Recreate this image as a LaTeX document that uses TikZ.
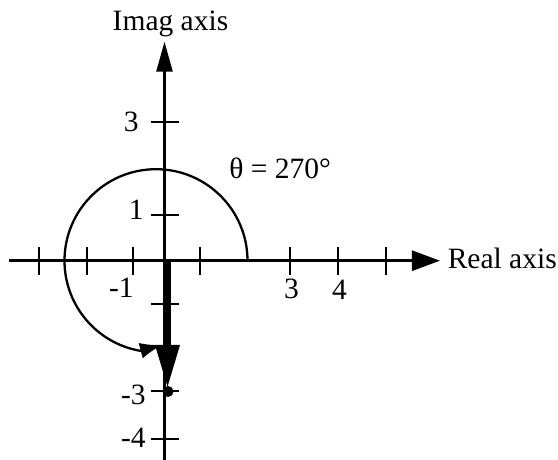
\documentclass[tikz,border=0pt]{standalone}
\usepackage{fontspec}
\setmainfont{Liberation Serif}
\usetikzlibrary{arrows.meta}

\begin{document}
\begin{tikzpicture}[x=1pt,y=1pt,line width=2.6pt,font=\fontsize{29.5}{31}\selectfont,
  etiq/.style={inner sep=0pt}]
\useasboundingbox (-164.5,-199.3) rectangle (393.5,260.7);
% axes réel et imaginaire
\coordinate (xg) at (-155,0);
\coordinate (xd) at (275.5,0);
\coordinate (yb) at (0,-199.3);
\coordinate (yh) at (0,219);
\draw[-{Triangle[length=28pt,width=20pt]}] (xg) -- (xd);
\draw[-{Triangle[length=30pt,width=16pt]}] (yb) -- (yh);
\node[etiq,anchor=base] (imag) at (6,229.7) {Imag axis};
\node[etiq,anchor=base west] (reel) at (282,-7.6) {Real axis};
% graduations
\foreach \x in {-125.5,-77.5,-31.5,35.5,125.5,173.5,221.5}
  \draw (\x,-14) -- (\x,14);
\foreach \y in {138.7,45.7,-43.3,-130.3,-178.3}
  \draw (-13,\y) -- (15,\y);
\node[etiq,anchor=base east] (g3) at (-24.5,128.7) {3};
\node[etiq,anchor=base east] (g1) at (-19.5,40.7) {1};
\node[etiq,anchor=base east] (gm1) at (-29.5,-37.3) {-1};
\node[etiq,anchor=base] (d3) at (127,-37.8) {3};
\node[etiq,anchor=base] (d4) at (175,-38.8) {4};
\node[etiq,anchor=base east] (gm3) at (-17.5,-144.3) {-3};
\node[etiq,anchor=base east] (gm4) at (-17.5,-187.3) {-4};
% rotation de 270 degrés
\coordinate (arcfin) at (-2.5,-84.3);
\draw[line width=2.3pt,-{Latex[length=22pt,width=16pt]}] (83,0) arc[start angle=0,end angle=260,radius=91.5] -- (arcfin);
\node[etiq,anchor=base west] (theta) at (63.5,82.4) {θ = 270°};
% vecteur résultant
\coordinate (O) at (3,0);
\coordinate (P) at (3,-127.3);
\draw[line width=6.5pt,-{Triangle[length=43pt,width=23pt]}] (O) -- (P);
\fill (3.5,-130.8) circle (5.5);
\end{tikzpicture}
\end{document}
